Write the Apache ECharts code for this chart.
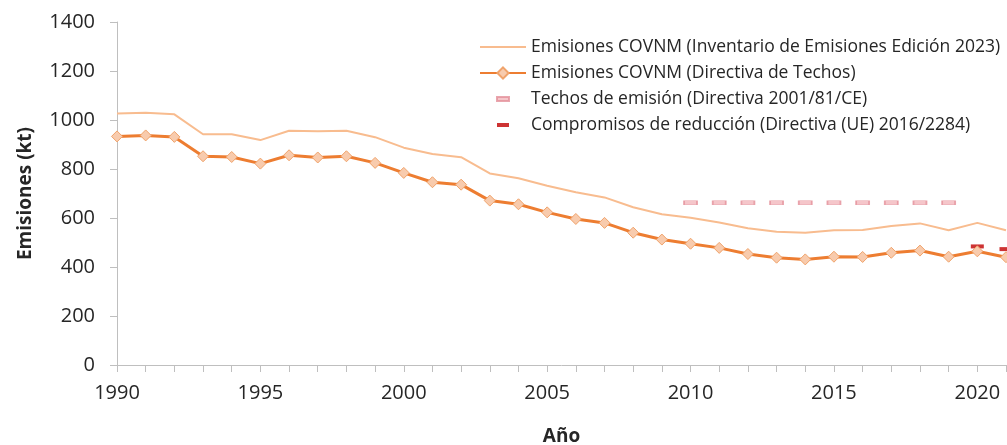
<!DOCTYPE html>
<html>
<head>
<meta charset="utf-8">
<script src="https://cdn.jsdelivr.net/npm/echarts@6/dist/echarts.min.js"></script>
<style>
  html, body { margin: 0; padding: 0; background: #fff; }
  #chart { width: 1007px; height: 445px; }
</style>
</head>
<body>
<div id="chart"></div>
<script>
// años del eje X
var years = ['1990','1991','1992','1993','1994','1995','1996','1997','1998','1999',
  '2000','2001','2002','2003','2004','2005','2006','2007','2008','2009',
  '2010','2011','2012','2013','2014','2015','2016','2017','2018','2019',
  '2020','2021'];

// Inventario de Emisiones Edición 2023 (kt)
var inventario = [1027, 1030, 1023, 942, 942, 918, 956, 954, 956, 930,
  887, 861, 848, 782, 762, 732, 705, 684, 644, 615,
  601, 582, 558, 544, 540, 550, 551, 567, 578, 550,
  580, 550];

// Directiva de Techos (kt)
var techos = [933, 937, 931, 852, 849, 822, 856, 847, 852, 825,
  784, 746, 736, 671, 656, 623, 596, 580, 540, 512,
  495, 478, 453, 438, 431, 442, 441, 458, 467, 442,
  464, 440];

// Techos de emisión (Directiva 2001/81/CE)
var techoYears = ['2010','2011','2012','2013','2014','2015','2016','2017','2018','2019'];
var techoValues = [662, 662, 662, 662, 662, 662, 662, 662, 662, 662];

// Compromisos de reducción (Directiva (UE) 2016/2284)
var compromisoYears = ['2020', '2021'];
var compromisoValues = [484, 473];

var nameInv = 'Emisiones COVNM (Inventario de Emisiones Edición 2023)';
var nameDir = 'Emisiones COVNM (Directiva de Techos)';
var nameTecho = 'Techos de emisión (Directiva 2001/81/CE)';
var nameComp = 'Compromisos de reducción (Directiva (UE) 2016/2284)';

var font = 'Open Sans';
// iconos de leyenda dentro de un marco de 46x14
var lineIcon = 'path://M0,0M46,14M0,6h46v2h-46z';
var dashIcon = 'path://M0,0M46,14M17,5h12v4h-12z';

var chart = echarts.init(document.getElementById('chart'));

chart.setOption({
  animation: false,
  backgroundColor: '#fff',
  grid: { left: 117, right: 1, top: 22, bottom: 80, outerBoundsMode: 'none' },
  legend: {
    orient: 'vertical',
    left: 474,
    top: 33,
    itemWidth: 46,
    itemHeight: 14,
    itemGap: 8,
    textStyle: { fontFamily: font, fontSize: 17.5, lineHeight: 16, color: '#262626' },
    data: [
      { name: nameInv, icon: lineIcon },
      { name: nameDir },
      { name: nameTecho, icon: dashIcon },
      { name: nameComp, icon: dashIcon }
    ]
  },
  xAxis: {
    type: 'category',
    data: years,
    boundaryGap: false,
    name: 'Año',
    nameLocation: 'middle',
    nameGap: 62,
    nameTextStyle: { fontFamily: font, fontSize: 19, fontWeight: 'bold', color: '#262626' },
    axisLine: { lineStyle: { color: '#BFBFBF', width: 1 } },
    axisTick: { interval: 0, length: 7, lineStyle: { color: '#BFBFBF' } },
    axisLabel: { interval: 4, margin: 18, fontFamily: font, fontSize: 20, color: '#262626' },
    splitLine: { show: false }
  },
  yAxis: {
    type: 'value',
    min: 0,
    max: 1400,
    interval: 200,
    name: 'Emisiones (kt)',
    nameLocation: 'middle',
    nameGap: 82,
    nameTextStyle: { fontFamily: font, fontSize: 19, fontWeight: 'bold', color: '#262626' },
    axisLine: { show: true, lineStyle: { color: '#BFBFBF', width: 1 } },
    axisTick: { show: true, length: 7, lineStyle: { color: '#BFBFBF' } },
    axisLabel: {
      margin: 22, fontFamily: font, fontSize: 20, color: '#262626',
      formatter: function (v) { return String(v); }
    },
    splitLine: { show: false }
  },
  series: [
    {
      name: nameInv,
      type: 'line',
      data: inventario,
      symbol: 'none',
      lineStyle: { color: '#F8BC8F', width: 2 },
      itemStyle: { color: '#F8BC8F' }
    },
    {
      name: nameDir,
      type: 'line',
      data: techos,
      symbol: 'diamond',
      symbolSize: 11,
      lineStyle: { color: '#ED7D31', width: 3 },
      itemStyle: { color: '#F8CBAD', borderColor: '#F0A36B', borderWidth: 1 }
    },
    {
      name: nameTecho,
      type: 'scatter',
      data: techoYears.map(function (y, i) { return [y, techoValues[i]]; }),
      symbol: 'rect',
      symbolSize: [13, 4],
      itemStyle: { color: '#F2B8BD', borderColor: '#E3909A', borderWidth: 1 }
    },
    {
      name: nameComp,
      type: 'scatter',
      data: compromisoYears.map(function (y, i) { return [y, compromisoValues[i]]; }),
      symbol: 'rect',
      symbolSize: [13, 4],
      itemStyle: { color: '#C00000' }
    }
  ]
});
</script>
</body>
</html>
